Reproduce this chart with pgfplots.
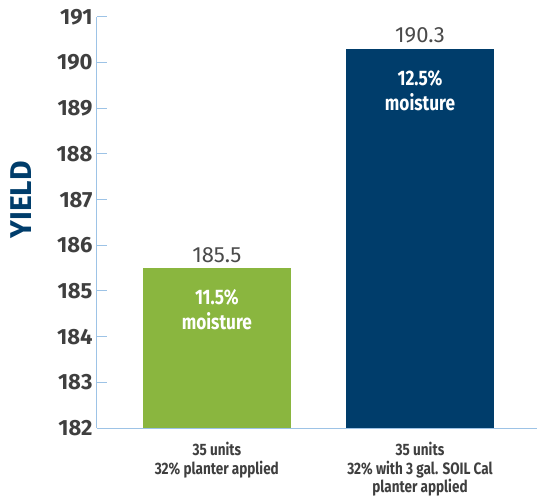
\documentclass[border=0pt]{standalone}
\usepackage{pgfplots}
\pgfplotsset{compat=1.18}
\usepackage{fontspec}
\setmainfont{Fira Sans}
\newfontfamily\condfont[FakeStretch=0.82]{Fira Sans}
\definecolor{barGreen}{HTML}{8AB63F}
\definecolor{barBlue}{HTML}{003D6B}
\definecolor{axBlue}{HTML}{9DC3E6}
\definecolor{tickGray}{HTML}{3F3F3F}
\definecolor{valGray}{HTML}{4A4A4A}
\begin{document}
\begin{tikzpicture}
\path[use as bounding box] (-97pt,-69pt) rectangle (440pt,428pt);
\begin{axis}[
  at={(0,0)}, anchor=south west,
  scale only axis,
  width=440pt, height=411pt,
  ymin=182, ymax=191,
  xmin=-0.59, xmax=1.576,
  ytick={182,183,...,191},
  xtick={0,1},
  xticklabels={{35 units\\32\% planter applied},{35 units\\32\% with 3 gal. SOIL Cal\\planter applied}},
  xticklabel style={font=\condfont\bfseries\fontsize{16.5}{18.5}\selectfont, text=tickGray, align=center, anchor=north, yshift=-1pt},
  xtick style={draw=none},
  yticklabel style={font=\bfseries\fontsize{22}{24}\selectfont, text=tickGray, xshift=-1pt},
  /pgf/number format/assume math mode=true,
  /pgf/number format/1000 sep={},
  ytick style={axBlue, line width=1pt},
  tick align=inside,
  major tick length=10pt,
  axis x line*=bottom,
  axis y line*=left,
  axis line style={axBlue, line width=1pt, -},
  ylabel={YIELD},
  ylabel style={at={(axis description cs:-0.173,0.555)}, anchor=center, rotate=0, font=\bfseries\fontsize{30}{32}\selectfont, text=barBlue},
  ybar, bar width=148pt, bar shift=0pt,
  clip=true,
]
\addplot[fill=barGreen, draw=none] coordinates {(0,185.5)};
\addplot[fill=barBlue, draw=none] coordinates {(1,190.3)};
\node[font=\fontsize{22}{24}\selectfont, text=valGray, anchor=south, yshift=2pt] at (axis cs:0,185.5) {185.5};
\node[font=\fontsize{22}{24}\selectfont, text=valGray, anchor=south, yshift=2pt] at (axis cs:1,190.3) {190.3};
\node[font=\condfont\bfseries\fontsize{21}{25}\selectfont, text=white, anchor=north, align=center, yshift=-18pt] at (axis cs:0,185.5) {11.5\%\\moisture};
\node[font=\condfont\bfseries\fontsize{21}{25}\selectfont, text=white, anchor=north, align=center, yshift=-18pt] at (axis cs:1,190.3) {12.5\%\\moisture};
\end{axis}
\end{tikzpicture}
\end{document}
